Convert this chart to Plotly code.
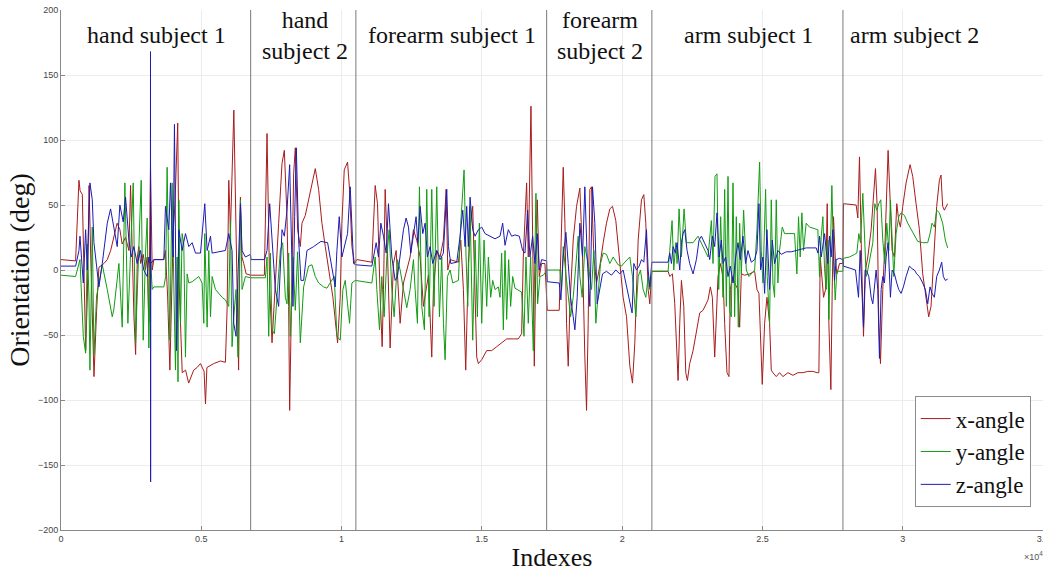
import plotly.graph_objects as go

# ---------------- data (sample index, angle in degrees) ----------------
x_idx = [0, 520, 640, 680, 760, 880, 940, 1000, 1060, 1175, 1270, 1350, 1530, 1650, 1770, 2000, 2100, 2180, 2300, 2420,
         2480, 2540, 2600, 2660, 2720, 2775, 2840, 2930, 3010, 3070, 3130, 3190, 3250, 3310, 3665, 3720, 3800, 3880, 3940, 4000,
         4060, 4160, 4210, 4320, 4440, 4550, 4730, 4850, 4970, 5100, 5150, 5200, 5440, 5680, 5860, 5920, 5980, 6040, 6160, 6270,
         6330, 6395, 6450, 6513, 6600, 6760, 7248, 7343, 7438, 7521, 7640, 7758, 7877, 7960, 8055, 8114, 8150, 8233, 8292, 8351,
         8434, 8529, 8589, 8707, 8826, 8944, 9063, 9182, 9300, 9419, 9537, 9691, 9858, 9952, 10012, 10095, 10213, 10284, 10368, 10462,
         10545, 11079, 11198, 11281, 11376, 11447, 11494, 11554, 11636, 11731, 11850, 11945, 12087, 12206, 12443, 12562, 12680, 12799, 12917, 13095,
         13214, 13273, 13392, 13510, 13629, 13726, 13785, 13868, 14165, 14248, 14342, 14425, 14520, 14603, 14674, 14758, 14817, 14876, 14995, 15173,
         15351, 15528, 15706, 15884, 16121, 16299, 16418, 16477, 16596, 16655, 16750, 16809, 16869, 16928, 16975, 17046, 17130, 17248, 17331, 17758,
         17817, 17900, 17960, 18019, 18078, 18138, 18256, 18375, 18493, 18588, 18671, 18731, 18790, 18849, 18909, 18992, 19086, 19205, 19324, 19442,
         19561, 19656, 19774, 19917, 20035, 20156, 20274, 20369, 20452, 20571, 20689, 20772, 20843, 20927, 20986, 21057, 21638, 21697, 21792, 21875,
         21935, 21994, 22053, 22113, 22196, 22267, 22326, 22409, 22528, 22646, 22765, 22883, 23061, 23144, 23215, 23299, 23358, 23417, 23500, 23595,
         23654, 23737, 23808, 23856, 23927, 24010, 24129, 24188, 24247, 24366, 24544, 24722, 24805, 24876, 24923, 24994, 25078, 25161, 25255, 25315,
         25374, 25493, 25611, 25730, 25908, 26086, 26264, 26441, 26619, 26797, 26951, 27012, 27060, 27096, 27179, 27250, 27309, 27368, 27439, 27487,
         27534, 27594, 27653, 27748, 27866, 27890, 28341, 28400, 28459, 28519, 28602, 28673, 28756, 28875, 28969, 29029, 29088, 29147, 29207, 29290,
         29373, 29432, 29479, 29551, 29622, 29705, 29788, 29859, 29918, 30001, 30120, 30262, 30357, 30476, 30595, 30713, 30831, 30926, 31009, 31092,
         31211, 31306, 31365, 31424, 31484, 31602]
x_angle = [8, 7, 69, 61, 58, -62, -20, 65, 10, -82, -31, 2, 5, 8, 15, 36, 31, 20, 25, 15,
           65, 10, -36, -65, 10, 18, 5, 12, 0, 10, -40, 80, 0, 8, 8, 15, -20, -77, -20, 30,
           50, 113, -10, -79, -77, -87, -77, -75, -72, -78, -103, -75, -72, -70, -71, -30, 69, 30, 123, 0,
           -77, 56, 10, 5, -3, -4, -4, 105, -15, -56, -5, 36, 82, 92, 41, -28, -108, -15, 74, 94,
           31, 18, 36, 42, 54, 67, 78, 62, 36, 18, 0, -21, -56, -21, 36, 77, 83, 62, 18, 5,
           8, 6, 65, 51, -21, -59, -15, 62, 15, -60, 5, 15, -41, -10, 10, 31, 23, 10, -28, -4,
           -67, -15, 15, 10, 23, 62, 0, 8, 6, 23, -15, -77, 5, 36, 49, -15, -67, -72, -69, -62,
           -62, -59, -56, -53, -53, -53, -49, 10, 67, 10, 126, 10, -74, 10, 54, -5, 5, 5, -31, -31,
           10, 79, 36, -41, -74, -28, 23, 49, 63, 10, -67, -108, -41, 62, 64, 10, -10, 3, 21, 36,
           47, 49, 38, 5, -21, -36, -74, -87, -56, 23, 54, 58, 36, -15, -26, -1, -1, -5, -3, -26,
           -56, -85, -41, -8, -28, -79, -85, -72, -62, -46, -33, -31, -23, -13, -21, -67, -41, -5, 5, -5,
           -41, -79, -82, -15, -5, -10, -15, -44, -3, -4, -3, -1, -15, -18, -46, -88, -41, -21, -41, -77,
           -79, -82, -79, -82, -79, -81, -79, -79, -78, -78, -79, -79, 10, -1, -21, -15, 51, -41, -92, -15,
           41, 10, -3, 5, 5, 51, 50, 40, 87, 23, -51, 0, 10, 31, 62, 78, 49, -41, -72, -15,
           23, 74, 92, 54, 15, 10, 51, 38, 33, 49, 67, 81, 72, 51, 31, -3, -21, -36, -28, 0,
           49, 69, 73, 49, 46, 51]

y_idx = [0, 520, 676, 795, 878, 937, 996, 1032, 1115, 1174, 1269, 1471, 1649, 1827, 1886, 2064, 2182, 2277, 2384, 2479,
         2574, 2657, 2775, 2858, 2930, 3012, 3072, 3131, 3190, 3250, 3309, 3665, 3730, 3783, 3878, 3961, 4020, 4080, 4139, 4170,
         4200, 4260, 4317, 4376, 4436, 4495, 4555, 4674, 4911, 5030, 5090, 5125, 5208, 5267, 5328, 5386, 5505, 5741, 5860, 5979,
         6039, 6097, 6157, 6239, 6310, 6395, 6453, 6573, 6751, 7284, 7343, 7403, 7462, 7521, 7604, 7699, 7818, 7901, 7996, 8055,
         8114, 8173, 8268, 8351, 8434, 8529, 8648, 8826, 8944, 9063, 9182, 9359, 9478, 9620, 9739, 9834, 9952, 10047, 10130, 10213,
         10284, 10368, 10486, 11079, 11198, 11257, 11352, 11435, 11518, 11613, 11696, 11791, 11874, 11992, 12087, 12206, 12324, 12443, 12562, 12621,
         12704, 12775, 12858, 12953, 13036, 13119, 13214, 13297, 13392, 13487, 13570, 13631, 13690, 13773, 13868, 13963, 14165, 14248, 14366, 14437,
         14497, 14580, 14674, 14758, 14841, 14912, 14995, 15078, 15173, 15232, 15315, 15386, 15469, 15588, 15647, 15706, 15766, 15825, 15884, 15955,
         16026, 16098, 16181, 16418, 16501, 16572, 16655, 16738, 16833, 16928, 16987, 17070, 17189, 17331, 17782, 17841, 17900, 17995, 18078, 18161,
         18256, 18351, 18434, 18493, 18576, 18671, 18790, 18909, 18992, 19063, 19146, 19229, 19324, 19442, 19561, 19680, 19857, 19976, 20094, 20274,
         20369, 20428, 20488, 20571, 20654, 20749, 20843, 20927, 20986, 21057, 21638, 21697, 21780, 21840, 21911, 21958, 22029, 22113, 22207, 22290,
         22528, 22706, 22883, 23061, 23180, 23239, 23310, 23381, 23441, 23512, 23595, 23654, 23714, 23773, 23832, 23891, 23951, 24010, 24069, 24141,
         24188, 24247, 24330, 24425, 24520, 24722, 24805, 24900, 24959, 25018, 25113, 25172, 25255, 25315, 25374, 25433, 25493, 25552, 25611, 25706,
         25789, 25967, 26145, 26228, 26287, 26346, 26406, 26465, 26560, 26679, 26857, 26975, 27036, 27096, 27155, 27214, 27273, 27333, 27368, 27416,
         27475, 27534, 27594, 27653, 27866, 27890, 28103, 28282, 28365, 28436, 28495, 28578, 28637, 28697, 28756, 28839, 28934, 29005, 29076, 29147,
         29218, 29290, 29361, 29432, 29503, 29562, 29622, 29681, 29764, 29859, 29942, 30061, 30179, 30298, 30416, 30535, 30713, 30891, 30974, 31045,
         31128, 31211, 31306, 31424, 31519, 31602]
y_angle = [-4, -5, 8, -51, -64, 20, -20, -77, 33, -65, -20, 4, -15, -36, -30, 5, -44, 67, -41, 13,
           67, -56, 18, 69, -54, 13, 40, -60, 10, -15, -13, -13, -5, 79, -54, 67, -10, -77, 10, -86,
           54, -41, 28, 20, -67, -3, -10, -9, -5, -10, -41, 28, -44, 15, -36, -5, -15, -21, -23, -28,
           38, -59, -36, -15, -67, 54, -15, -5, -6, -6, 10, -51, 13, -46, -49, -21, 15, 21, -21, -26,
           13, -51, 10, -31, 14, -56, -13, 3, 4, -5, -10, -13, -14, -9, -5, -51, -54, -15, -8, -26,
           -41, -10, -8, -10, 10, -15, -46, -5, -36, 10, 31, -15, -36, 8, 0, -15, -29, -15, 8, -15,
           -41, 64, -28, -46, 62, -36, 62, -28, 64, -36, 10, -41, -69, -5, 0, -10, -8, 36, 77, 10,
           -28, 49, -54, 23, -36, 36, -41, 23, -28, 10, -21, -8, -15, -13, -21, 13, -46, 15, -38, 8,
           -28, -5, -14, -17, -51, 10, -41, 10, -62, 59, -26, -5, -4, 0, 0, -15, 18, -3, -21, -36,
           -21, 5, 26, -5, -21, 18, 5, -15, 15, -41, -15, 5, 13, 12, 5, 10, 4, 3, 6, 10,
           -5, -21, -36, -5, 0, -15, -21, -5, -15, -1, -1, 15, 38, 0, 21, 5, 47, 10, 47, 21,
           21, 26, 18, 10, 38, 5, 72, 74, -15, 41, -21, 62, -28, 72, -31, -36, 67, -36, 41, -44,
           36, -3, 46, 0, -5, 0, 31, 83, 15, -10, 62, -5, -41, 54, -10, -21, 54, -10, 15, 33,
           28, 28, 28, -3, 41, 10, 44, 15, 36, 33, 32, 31, -5, 26, 41, 1, -15, 23, -38, 23,
           65, 10, -23, -1, -1, 9, 10, 12, 13, 28, 21, 59, 23, -5, 0, 10, 21, 51, 46, 51,
           54, 23, 5, 36, 15, 54, 21, -5, 28, 41, 44, 42, 36, 31, 26, 22, 21, 21, 28, 36,
           33, 46, 44, 36, 23, 17]

z_idx = [0, 522, 640, 676, 795, 878, 937, 1032, 1115, 1174, 1269, 1352, 1471, 1649, 1767, 1886, 2004, 2099, 2218, 2301,
         2420, 2503, 2597, 2716, 2835, 2950, 3072, 3130, 3186, 3190, 3194, 3198, 3309, 3665, 3724, 3843, 3902, 3997, 4044, 4115,
         4200, 4317, 4436, 4555, 4674, 4794, 4972, 5125, 5208, 5328, 5386, 5623, 5860, 5979, 6097, 6157, 6239, 6310, 6395, 6453,
         6573, 6751, 6774, 7248, 7343, 7438, 7521, 7640, 7758, 7877, 7960, 8055, 8150, 8209, 8268, 8328, 8387, 8470, 8553, 8648,
         8766, 9004, 9265, 9502, 9620, 9774, 9834, 9917, 10012, 10095, 10213, 10308, 10368, 10427, 10510, 11079, 11233, 11316, 11400, 11494,
         11589, 11672, 11791, 11909, 11992, 12087, 12206, 12301, 12384, 12467, 12562, 12656, 12716, 12799, 12894, 12977, 13060, 13155, 13250, 13392,
         13510, 13629, 13749, 13809, 13892, 14105, 14224, 14319, 14402, 14461, 14520, 14580, 14674, 14758, 14876, 14995, 15113, 15291, 15469, 15647,
         15742, 15825, 15944, 16062, 16181, 16335, 16453, 16537, 16631, 16714, 16809, 16892, 16975, 17046, 17130, 17307, 17331, 17758, 17817, 17900,
         17995, 18078, 18161, 18256, 18316, 18398, 18493, 18588, 18671, 18754, 18849, 18944, 19027, 19110, 19205, 19300, 19442, 19620, 19774, 19917,
         20035, 20154, 20273, 20355, 20417, 20511, 20606, 20689, 20772, 20867, 20927, 20986, 21057, 21638, 21697, 21757, 21816, 21899, 21958, 22053,
         22113, 22172, 22231, 22314, 22409, 22528, 22646, 22741, 22824, 22943, 23061, 23121, 23215, 23299, 23382, 23453, 23536, 23595, 23690, 23773,
         23856, 23951, 24046, 24129, 24212, 24307, 24401, 24485, 24603, 24722, 24805, 24876, 24935, 25018, 25078, 25161, 25255, 25350, 25433, 25552,
         25671, 25849, 26026, 26204, 26382, 26560, 26738, 26918, 26977, 27036, 27096, 27155, 27214, 27273, 27333, 27392, 27451, 27510, 27570, 27629,
         27748, 27866, 27890, 28317, 28376, 28424, 28483, 28554, 28602, 28661, 28720, 28791, 28875, 28934, 28993, 29052, 29112, 29171, 29230, 29290,
         29349, 29408, 29479, 29527, 29562, 29622, 29705, 29788, 29859, 29942, 30025, 30120, 30239, 30333, 30416, 30499, 30594, 30713, 30808, 30891,
         30974, 31045, 31128, 31211, 31306, 31389, 31448, 31519, 31602]
z_angle = [3, 3, 15, 26, -10, 31, 0, 67, 54, 21, 3, -13, 5, 36, 47, 33, 18, 50, 37, 56,
           23, 10, 18, 5, 15, 0, -5, 10, 5, 168, -163, 5, 8, 8, 49, 31, 67, 10, 112, -62,
           31, 15, 28, 18, 21, 13, 13, 51, 15, 26, 13, 14, 15, 28, 15, -41, -51, -3, 51, 15,
           10, 12, 8, 8, 15, 51, 23, -15, -28, 31, 26, 46, 81, 36, -28, 41, 94, 23, -8, -8,
           15, 18, 22, 21, 5, -13, 15, 41, 10, 18, 28, 64, 36, 5, 4, 3, 21, 10, 36, 26,
           13, 51, 10, -8, -5, 10, 31, 40, 33, 13, 26, 41, 21, 49, 28, 36, 10, 18, 5, 15,
           8, 13, 62, 18, 5, 6, 26, 46, 18, 49, 18, 56, 31, 26, 31, 33, 28, 26, 24, 26,
           36, 19, 31, 26, 27, 26, 15, 13, 46, 10, 26, 5, 28, 0, 8, 7, -9, -10, -23, 10,
           29, 5, -21, -36, -46, -21, 36, 10, 64, 10, -28, 64, 36, -26, -15, -3, -1, -4, 0, -3,
           0, -13, -26, -33, 5, 0, 3, 8, 6, 31, 0, -13, 6, 6, 13, 5, 18, 13, 21, 0,
           21, 28, 31, 15, 5, -3, 8, 23, 26, 21, 15, 8, 26, 18, 44, 10, 23, 5, 10, -5,
           3, -10, 10, 21, 8, 26, 5, 15, 6, 8, 15, 51, 0, 10, -18, 31, -15, 23, 5, 15,
           12, 14, 14, 15, 16, 17, 17, 17, 13, 26, 10, 21, 28, 15, 5, 26, 10, 31, -8, 8,
           9, 8, 3, 0, -10, -21, 15, -21, -44, 0, -1, -5, -21, -26, -10, 0, -15, -68, -15, -5,
           -10, 10, 21, -5, -21, 0, -3, -10, -15, -18, -13, -5, 3, 1, 0, -3, -5, -10, -15, -26,
           -13, -18, -21, -5, 0, 6, -5, -8, -7]

series_names = ["x-angle", "y-angle", "z-angle"]
series_colors = ["#a81c1c", "#129c12", "#1c1cb4"]

# segment boundaries (sample index) and segment labels
boundaries = [6760, 10510, 17310, 21060, 27870]
label_pos = [3421, 8696, 13935, 19210, 24520, 30436]
label_text = ["hand subject 1", "hand<br>subject 2", "forearm subject 1",
              "forearm<br>subject 2", "arm subject 1", "arm subject 2"]

tick_vals = [0, 5000, 10000, 15000, 20000, 25000, 30000, 35000]
tick_text = ["0", "0.5", "1", "1.5", "2", "2.5", "3", "3.5"]
ytick_vals = [-200, -150, -100, -50, 0, 50, 100, 150, 200]

# ---------------- figure ----------------
fig = go.Figure()
for xs, ys, nm, col in [(x_idx, x_angle, series_names[0], series_colors[0]),
                        (y_idx, y_angle, series_names[1], series_colors[1]),
                        (z_idx, z_angle, series_names[2], series_colors[2])]:
    fig.add_trace(go.Scatter(x=xs, y=ys, mode="lines", name=nm,
                             line=dict(color=col, width=1)))

for b in boundaries:
    fig.add_shape(type="line", xref="x", yref="paper", x0=b, x1=b, y0=0, y1=1,
                  line=dict(color="#7a7a7a", width=1))

serif = "Liberation Serif, Times New Roman, serif"
for xp, txt in zip(label_pos, label_text):
    fig.add_annotation(x=xp, xref="x", y=0.951, yref="paper", text=txt,
                       showarrow=False, font=dict(family=serif, size=24, color="#111"),
                       xanchor="center", yanchor="middle")

fig.add_annotation(x=1.0, xref="paper", y=-0.034, yref="paper", text="×10<sup>4</sup>",
                   showarrow=False, font=dict(family="Liberation Sans, Arial", size=9, color="#555"),
                   xanchor="right", yanchor="top", xshift=2)

fig.update_layout(
    width=1043, height=572,
    margin=dict(l=61, r=0, t=10, b=42),
    plot_bgcolor="white", paper_bgcolor="white",
    font=dict(family="Liberation Sans, Arial, sans-serif", size=9, color="#444"),
    legend=dict(x=0.9875, y=0.044, xanchor="right", yanchor="bottom",
                bgcolor="white", bordercolor="#8c8c8c", borderwidth=1,
                font=dict(family=serif, size=23, color="#111"),
                itemwidth=30, tracegroupgap=0),
    xaxis=dict(range=[0, 35000], tickvals=tick_vals, ticktext=tick_text,
               ticklabeloverflow="allow",
               showgrid=True, gridcolor="#ececec", gridwidth=1,
               ticks="inside", ticklen=4, tickcolor="#888",
               showline=True, linecolor="#888", linewidth=1, zeroline=False,
               tickfont=dict(size=9, color="#444"),
               title=dict(text="Indexes", font=dict(family=serif, size=26, color="#111"), standoff=6),
               automargin=False),
    yaxis=dict(range=[-200, 200], tickvals=ytick_vals,
               showgrid=True, gridcolor="#ececec", gridwidth=1,
               ticks="inside", ticklen=4, tickcolor="#888",
               showline=True, linecolor="#888", linewidth=1, zeroline=False,
               tickfont=dict(size=9, color="#444"),
               title=dict(text="Orientation (deg)", font=dict(family=serif, size=28, color="#111"), standoff=0),
               automargin=False),
)

fig.write_html("out.html")
